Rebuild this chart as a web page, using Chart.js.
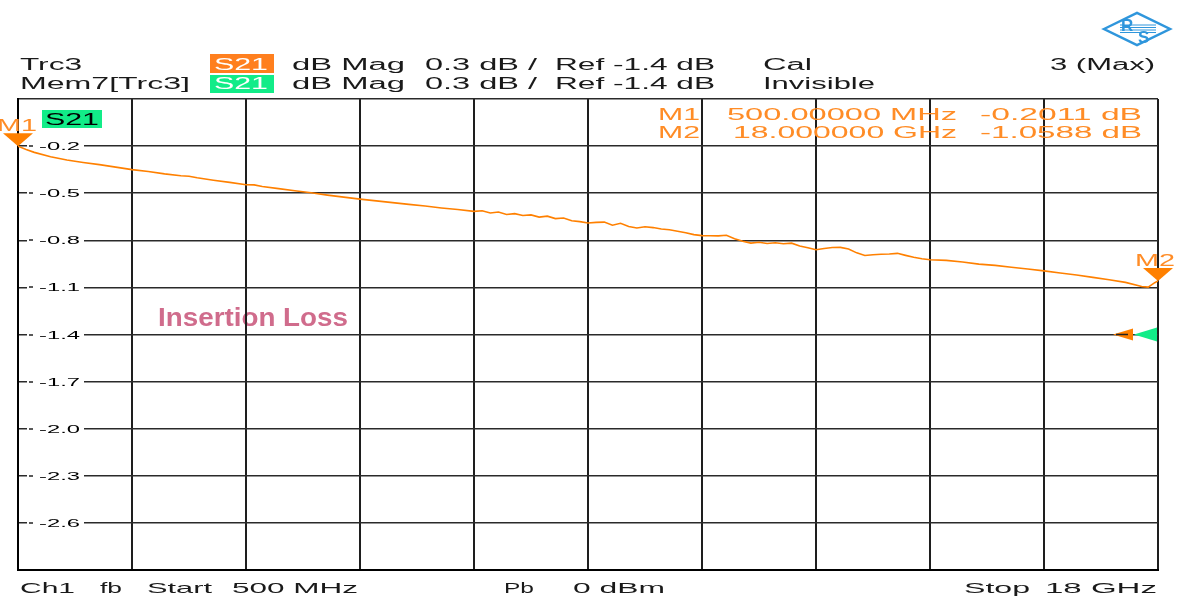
<!DOCTYPE html>
<html><head><meta charset="utf-8">
<script src="https://cdn.jsdelivr.net/npm/chart.js@4/dist/chart.umd.min.js"></script>
<style>html,body{margin:0;padding:0;background:#fff;overflow:hidden}#wrap{width:1183px;height:597px;position:relative}</style>
</head><body><div id="wrap"><canvas id="c" width="1183" height="597"></canvas></div>
<script>
// ---- data ----
const freqGHz = [0.5,0.625,0.75,1.0,1.25,1.5,1.75,2.0,2.25,2.5,2.75,3.0,3.125,3.25,3.5,3.75,4.0,4.125,4.25,4.5,4.75,5.0,5.25,5.5,5.75,6.0,6.25,6.5,6.75,7.0,7.25,7.5,7.625,7.75,7.875,8.0,8.125,8.25,8.375,8.5,8.625,8.75,8.875,9.0,9.125,9.25,9.375,9.5,9.625,9.75,9.875,10.0,10.125,10.25,10.375,10.5,10.625,10.75,10.875,11.0,11.125,11.25,11.375,11.5,11.625,11.75,11.875,12.0,12.125,12.25,12.375,12.5,12.625,12.75,12.875,13.0,13.125,13.25,13.375,13.5,13.625,13.75,13.875,14.0,14.125,14.25,14.375,14.5,14.75,15.0,15.25,15.5,15.75,16.0,16.25,16.5,16.75,17.0,17.25,17.5,17.75,17.85,17.95,18.0];
const s21dB = [-0.201,-0.222,-0.240,-0.268,-0.288,-0.304,-0.318,-0.334,-0.350,-0.362,-0.377,-0.389,-0.392,-0.402,-0.417,-0.431,-0.446,-0.447,-0.457,-0.471,-0.484,-0.497,-0.512,-0.525,-0.538,-0.549,-0.560,-0.571,-0.582,-0.594,-0.604,-0.616,-0.612,-0.626,-0.620,-0.636,-0.630,-0.642,-0.638,-0.652,-0.646,-0.662,-0.658,-0.676,-0.681,-0.690,-0.686,-0.684,-0.704,-0.692,-0.712,-0.722,-0.714,-0.719,-0.728,-0.733,-0.742,-0.752,-0.764,-0.770,-0.771,-0.772,-0.768,-0.790,-0.806,-0.818,-0.812,-0.820,-0.816,-0.822,-0.818,-0.836,-0.848,-0.860,-0.852,-0.846,-0.845,-0.855,-0.880,-0.897,-0.892,-0.889,-0.887,-0.883,-0.896,-0.908,-0.918,-0.924,-0.928,-0.938,-0.952,-0.960,-0.972,-0.983,-0.995,-1.008,-1.021,-1.036,-1.051,-1.068,-1.094,-1.098,-1.070,-1.059];
const yTickValues = [-0.2,-0.5,-0.8,-1.1,-1.4,-1.7,-2.0,-2.3,-2.6];
const yTickLabels = ['-0.2','-0.5','-0.8','-1.1','-1.4','-1.7','-2.0','-2.3','-2.6'];
const markerNames = ['M1','M2'];
const markerFreqGHz = [0.5,18];
const markerDB = [-0.2011,-1.0588];
const markerFreqText = ['500.00000 MHz','18.000000 GHz'];
const markerDBText = ['-0.2011 dB','-1.0588 dB'];
const refLevelDB = -1.4;
const startGHz = 0.5, stopGHz = 18, divGHz = 1.75;
const topDB = 0.1, bottomDB = -2.9, divDB = 0.3;

const FONT = '"Liberation Sans", Arial, sans-serif';
const ORANGE = '#ff8000', ORANGE_TXT = '#ff8c26', GREEN = '#12ec88', INK = '#1a1a1a';

function drawFit(ctx, text, x, yBase, w, size, color, align, weight) {
  ctx.save();
  ctx.font = (weight || 'normal') + ' ' + size + 'px ' + FONT;
  ctx.fillStyle = color; ctx.textBaseline = 'alphabetic'; ctx.textAlign = 'left';
  const m = ctx.measureText(text).width;
  const sx = w / m;
  let x0 = x;
  if (align === 'right') x0 = x - w; else if (align === 'center') x0 = x - w / 2;
  ctx.translate(x0, yBase); ctx.scale(sx, 1);
  ctx.fillText(text, 0, 0);
  ctx.restore();
}

const overlay = {
  id: 'overlay',
  beforeDraw(chart) {
    drawFit(chart.ctx, 'Insertion Loss', 158, 326, 190, 26, '#d06c8c', 'left', 'bold');
  },
  beforeDatasetsDraw(chart) {
    const ctx = chart.ctx, ys = chart.scales.y;
    yTickValues.forEach((v, i) => {
      const py = Math.round(ys.getPixelForValue(v));
      ctx.fillStyle = '#fff'; ctx.fillRect(27, py - 6, 57, 12);
      ctx.strokeStyle = '#222'; ctx.lineWidth = 1.5;
      ctx.beginPath(); ctx.moveTo(29, py); ctx.lineTo(33, py); ctx.stroke();
      drawFit(ctx, yTickLabels[i], 80, py + 4, 41, 11, '#000', 'right');
    });
  },
  afterDraw(chart) {
    const ctx = chart.ctx, xs = chart.scales.x, ys = chart.scales.y;
    // header row 1
    drawFit(ctx, 'Trc3', 20, 70, 62, 16, INK);
    ctx.fillStyle = '#ff7f1e'; ctx.fillRect(210, 54, 64, 19);
    drawFit(ctx, 'S21', 214, 70, 54, 16, '#fff');
    drawFit(ctx, 'dB Mag', 292, 70, 113, 16, INK);
    drawFit(ctx, '0.3 dB /', 425, 70, 112, 16, INK);
    drawFit(ctx, 'Ref -1.4 dB', 555, 70, 160, 16, INK);
    drawFit(ctx, 'Cal', 763, 70, 49, 16, INK);
    drawFit(ctx, '3 (Max)', 1050, 70, 105, 16, INK);
    // header row 2
    drawFit(ctx, 'Mem7[Trc3]', 20, 89, 170, 16, INK);
    ctx.fillStyle = GREEN; ctx.fillRect(210, 75, 64, 18);
    drawFit(ctx, 'S21', 214, 89, 54, 16, '#fff');
    drawFit(ctx, 'dB Mag', 292, 89, 113, 16, INK);
    drawFit(ctx, '0.3 dB /', 425, 89, 112, 16, INK);
    drawFit(ctx, 'Ref -1.4 dB', 555, 89, 160, 16, INK);
    drawFit(ctx, 'Invisible', 763, 89, 112, 16, INK);
    // footer
    drawFit(ctx, 'Ch1', 20, 593, 55, 15, INK);
    drawFit(ctx, 'fb', 100, 593, 22, 15, INK);
    drawFit(ctx, 'Start', 147, 593, 65, 15, INK);
    drawFit(ctx, '500 MHz', 232, 593, 126, 15, INK);
    drawFit(ctx, 'Pb', 504, 593, 30, 15, INK);
    drawFit(ctx, '0 dBm', 573, 593, 92, 15, INK);
    drawFit(ctx, 'Stop', 964, 593, 66, 15, INK);
    drawFit(ctx, '18 GHz', 1045, 593, 112, 15, INK);
    // trace label in plot
    ctx.fillStyle = GREEN; ctx.fillRect(42, 110, 60, 18);
    drawFit(ctx, 'S21', 45, 125, 54, 16, '#000');
    // marker readout
    const rowY = [120, 138];
    for (let i = 0; i < markerNames.length; i++) {
      drawFit(ctx, markerNames[i], 658, rowY[i], 42, 16, ORANGE_TXT);
      drawFit(ctx, markerFreqText[i], 957, rowY[i], i === 0 ? 230 : 224, 16, ORANGE_TXT, 'right');
      drawFit(ctx, markerDBText[i], 1142, rowY[i], 162, 16, ORANGE_TXT, 'right');
    }
    // marker triangles
    for (let i = 0; i < markerNames.length; i++) {
      const px = xs.getPixelForValue(markerFreqGHz[i]);
      const py = ys.getPixelForValue(markerDB[i]);
      ctx.fillStyle = ORANGE;
      ctx.beginPath(); ctx.moveTo(px - 15, py - 13); ctx.lineTo(px + 15, py - 13); ctx.lineTo(px, py); ctx.closePath(); ctx.fill();
      drawFit(ctx, markerNames[i], i === 0 ? px - 1 : px - 3, py - 15, 40, 16, ORANGE_TXT, 'center');
    }
    // reference level arrows
    const ry = ys.getPixelForValue(refLevelDB);
    const rx = chart.chartArea.right;
    ctx.fillStyle = GREEN;
    ctx.beginPath(); ctx.moveTo(rx - 1, ry - 7); ctx.lineTo(rx - 1, ry + 7); ctx.lineTo(rx - 24, ry); ctx.closePath(); ctx.fill();
    ctx.fillStyle = ORANGE;
    ctx.beginPath(); ctx.moveTo(rx - 25, ry - 6); ctx.lineTo(rx - 25, ry + 6); ctx.lineTo(rx - 45, ry); ctx.closePath(); ctx.fill();
    ctx.strokeStyle = '#222'; ctx.lineWidth = 1.5;
    ctx.beginPath(); ctx.moveTo(rx - 42, ry); ctx.lineTo(rx - 30, ry); ctx.stroke();
    // R&S logo
    ctx.save();
    ctx.strokeStyle = '#2f96dc'; ctx.lineWidth = 2.5;
    ctx.beginPath(); ctx.moveTo(1104, 29); ctx.lineTo(1137, 13); ctx.lineTo(1170, 29); ctx.lineTo(1137, 45); ctx.closePath(); ctx.stroke();
    ctx.fillStyle = '#2f96dc'; ctx.font = 'bold 17px ' + FONT;
    ctx.fillText('R', 1121, 31); ctx.fillText('S', 1138, 43);
    ctx.lineWidth = 1;
    for (let k = 0; k < 4; k++) { ctx.beginPath(); ctx.moveTo(1120, 25 + k * 2.5); ctx.lineTo(1156, 25 + k * 2.5); ctx.stroke(); }
    ctx.restore();
  }
};

const points = freqGHz.map((f, i) => ({ x: f, y: s21dB[i] }));

new Chart(document.getElementById('c'), {
  type: 'line',
  data: { datasets: [{ data: points, borderColor: ORANGE, borderWidth: 1.6, pointRadius: 0, tension: 0, fill: false }] },
  options: {
    responsive: false, animation: false, devicePixelRatio: 1,
    layout: { padding: { left: 18, top: 99, right: 25, bottom: 27 } },
    plugins: { legend: { display: false }, tooltip: { enabled: false } },
    scales: {
      x: { type: 'linear', min: startGHz, max: stopGHz,
           ticks: { display: false, stepSize: divGHz },
           grid: { color: '#1e1e1e', lineWidth: 2, drawTicks: false },
           border: { display: true, color: '#000', width: 2 } },
      y: { type: 'linear', min: bottomDB, max: topDB,
           ticks: { display: false, stepSize: divDB },
           grid: { color: '#2a2a2a', lineWidth: 1.5, drawTicks: false },
           border: { display: true, color: '#000', width: 2 } }
    }
  },
  plugins: [overlay]
});
</script></body></html>
